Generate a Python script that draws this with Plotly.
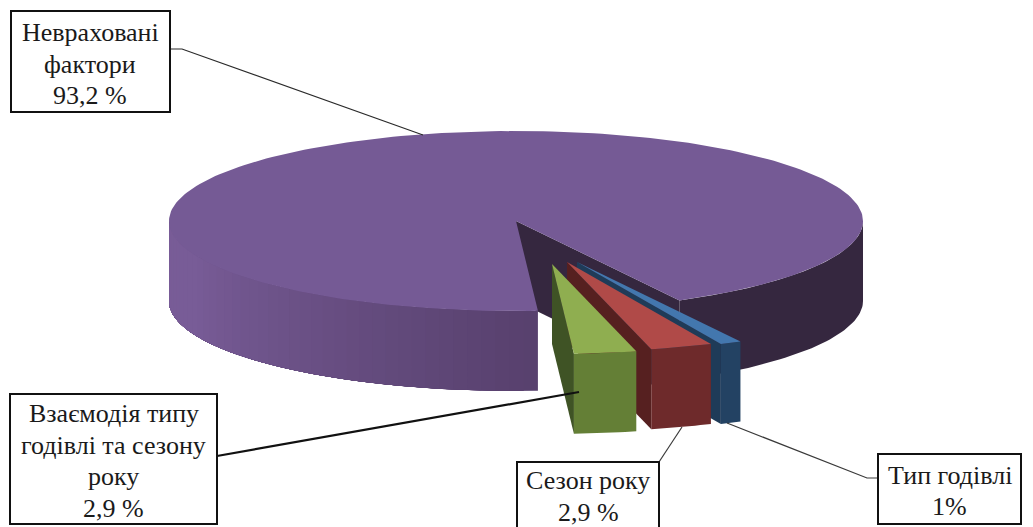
import numpy as np
import plotly.graph_objects as go

# ---- data (clockwise order, starting from the narrow blue slice) ----
categories = ["Тип годівлі", "Сезон року", "Взаємодія типу годівлі та сезону року", "Неврахованi фактори"]
values = [1.0, 2.9, 2.9, 93.2]
label_lines = [
    ["Тип годівлі", "1%"],
    ["Сезон року", "2,9 %"],
    ["Взаємодія типу", "годівлі та сезону", "року", "2,9 %"],
    ["Невраховані", "фактори", "93,2 %"],
]

# ---- projection / style ----
W, H = 1033, 527
CX, CY, RX, RY, DEPTH = 516.0, 221.0, 347.0, 90.0, 80.0
START = 61.9
explode = [(61, 41), (51, 41), (36, 43), (0, 0)]
top_col = ["#4377ae", "#b04a48", "#8fae50", "#755a95"]
front_col = ["#234263", "#6e2a2b", "#647f36", "#5a4270"]
side_col = ["#1f3b58", "#562020", "#3f5325", "#35273f"]
PURPLE_LEFT = np.array([0x78, 0x5c, 0x97])
PURPLE_RIGHT = np.array([0x58, 0x41, 0x6e])

boxes = [(878, 454, 1021, 524), (517, 462, 659, 540), (10, 394, 217, 524), (11, 11, 170, 112)]
leaders = [
    ([878, 867, 727], [478, 478, 423], 1.2, "#3a3a3a"),
    ([659, 682], [462, 427], 1.2, "#3a3a3a"),
    ([217, 579], [456, 392], 2.2, "#111111"),
    ([170, 182, 423], [49, 49, 135], 1.2, "#2a2a2a"),
]
label_centers = [(949.5, 491), (588, 496.5), (113.5, 461), (90, 64)]
LINE_STEP = 31.5

fig = go.Figure()


def poly(xs, ys, color):
    fig.add_trace(go.Scatter(
        x=list(xs), y=list(ys), mode="lines", fill="toself", fillcolor=color,
        line=dict(color=color, width=0), hoverinfo="skip", showlegend=False))


def rim(theta_deg, ox=0.0, oy=0.0, dz=0.0):
    t = np.radians(theta_deg)
    return CX + ox + RX * np.cos(t), CY + oy + RY * np.sin(t) + dz


edges = START + np.concatenate([[0], np.cumsum(values)]) * 3.6

# the big slice: back-most, its walls first
a0, a1 = edges[3], edges[4]
ox, oy = explode[3]

# dark cut wall + right-hand outer wall
cut = a1 - 360
th = np.linspace(0, cut, 50)
x, y = rim(th, ox, oy)
xb, yb = rim(th[::-1], ox, oy, DEPTH)
poly(np.r_[x, xb], np.r_[y, yb], side_col[3])
xe, ye = rim(cut, ox, oy)
poly([CX, xe, xe, CX], [CY, ye, ye + DEPTH, CY + DEPTH], side_col[3])

# left outer wall, shaded by overlapping layers (no seams)
steps = np.linspace(a0, 180, 41)
for i in range(len(steps) - 1):
    f = (steps[i] - a0) / (180 - a0)
    c = PURPLE_RIGHT + (PURPLE_LEFT - PURPLE_RIGHT) * min(1.0, f * 1.35)
    color = "rgb(%d,%d,%d)" % tuple(c)
    th = np.linspace(steps[i], 180, 60)
    x, y = rim(th, ox, oy)
    xb, yb = rim(th[::-1], ox, oy, DEPTH)
    poly(np.r_[x, xb], np.r_[y, yb], color)

# top face
th = np.linspace(a0, a1, 240)
x, y = rim(th, ox, oy)
poly(np.r_[CX + ox, x], np.r_[CY + oy, y], top_col[3])

# exploded slices, rear to front
for i in range(3):
    a0, a1 = edges[i], edges[i + 1]
    ox, oy = explode[i]
    ax, ay = CX + ox, CY + oy
    # left cut wall
    xl, yl = rim(a1, ox, oy)
    poly([ax, xl, xl, ax], [ay, yl, yl + DEPTH, ay + DEPTH], side_col[i])
    # outer wall
    th = np.linspace(a0, a1, 12)
    x, y = rim(th, ox, oy)
    xb, yb = rim(th[::-1], ox, oy, DEPTH)
    poly(np.r_[x, xb], np.r_[y, yb], front_col[i])
    # top face
    poly(np.r_[ax, x], np.r_[ay, y], top_col[i])

# leader lines
for lx, ly, w, c in leaders:
    fig.add_trace(go.Scatter(x=lx, y=ly, mode="lines", line=dict(color=c, width=w),
                             hoverinfo="skip", showlegend=False))

# label boxes
for b in boxes:
    fig.add_shape(type="rect", x0=b[0], y0=b[1], x1=b[2], y1=b[3],
                  line=dict(color="#111111", width=2), fillcolor="white", layer="above")

# label text, one annotation per line to control the line spacing
for lines, (lx, ly) in zip(label_lines, label_centers):
    for k, line in enumerate(lines):
        fig.add_annotation(x=lx, y=ly + (k - (len(lines) - 1) / 2) * LINE_STEP,
                           text=line, showarrow=False,
                           xanchor="center", yanchor="middle",
                           font=dict(family="Liberation Serif", size=26, color="#1a1a1a"))

fig.update_layout(
    width=W, height=H, autosize=False, margin=dict(l=0, r=0, t=0, b=0),
    paper_bgcolor="white", plot_bgcolor="white", showlegend=False,
    xaxis=dict(range=[0, W], visible=False, fixedrange=True),
    yaxis=dict(range=[H, 0], visible=False, fixedrange=True),
)
fig.write_html("out.html", config={"displayModeBar": False},
               post_script="document.body.style.margin='0';document.body.style.overflow='hidden';")
